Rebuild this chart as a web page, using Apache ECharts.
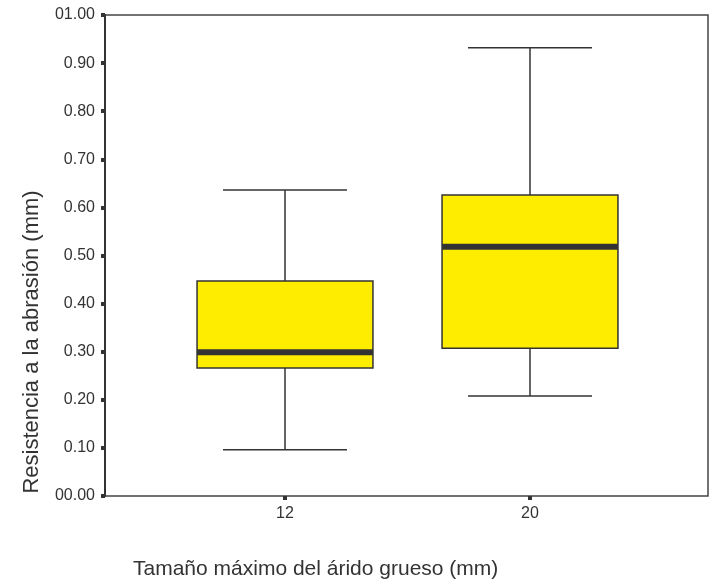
<!DOCTYPE html>
<html>
<head>
<meta charset="utf-8">
<script src="https://cdn.jsdelivr.net/npm/echarts@6/dist/echarts.min.js"></script>
<style>
html,body{margin:0;padding:0;background:#fff;}
#chart{width:717px;height:585px;}
</style>
</head>
<body>
<div id="chart"></div>
<script>
const categories = ['12', '20'];
const minVals = [0.096, 0.208];
const q1Vals = [0.266, 0.307];
const medianVals = [0.299, 0.518];
const q3Vals = [0.447, 0.626];
const maxVals = [0.636, 0.932];
const yTicks = [0, 0.1, 0.2, 0.3, 0.4, 0.5, 0.6, 0.7, 0.8, 0.9, 1.0];
const yTickLabels = ['00.00', '0.10', '0.20', '0.30', '0.40', '0.50', '0.60', '0.70', '0.80', '0.90', '01.00'];
const xTitle = 'Tamaño máximo del árido grueso (mm)';
const yTitle = 'Resistencia a la abrasión (mm)';

const boxData = categories.map((c, i) => [i, minVals[i], q1Vals[i], medianVals[i], q3Vals[i], maxVals[i]]);

const chart = echarts.init(document.getElementById('chart'), null, {renderer: 'canvas'});
const FONT = '"Liberation Sans", Arial, sans-serif';
const DARK = '#333333';

function renderBox(params, api) {
  const idx = api.value(0);
  const band = api.size([1, 0])[0];
  const boxW = band * 0.718;
  const capW = band * 0.506;
  const pMin = api.coord([idx, api.value(1)]);
  const pQ1 = api.coord([idx, api.value(2)]);
  const pMed = api.coord([idx, api.value(3)]);
  const pQ3 = api.coord([idx, api.value(4)]);
  const pMax = api.coord([idx, api.value(5)]);
  const cx = pMed[0];
  const lineStyle = {stroke: DARK, lineWidth: 1.5};
  return {
    type: 'group',
    children: [
      {type: 'line', shape: {x1: cx, y1: pMax[1], x2: cx, y2: pQ3[1]}, style: lineStyle},
      {type: 'line', shape: {x1: cx, y1: pQ1[1], x2: cx, y2: pMin[1]}, style: lineStyle},
      {type: 'line', shape: {x1: cx - capW / 2, y1: pMax[1], x2: cx + capW / 2, y2: pMax[1]}, style: lineStyle},
      {type: 'line', shape: {x1: cx - capW / 2, y1: pMin[1], x2: cx + capW / 2, y2: pMin[1]}, style: lineStyle},
      {type: 'rect', shape: {x: cx - boxW / 2, y: pQ3[1], width: boxW, height: pQ1[1] - pQ3[1]},
        style: {fill: '#FFED00', stroke: DARK, lineWidth: 1.5}},
      {type: 'line', shape: {x1: cx - boxW / 2, y1: pMed[1], x2: cx + boxW / 2, y2: pMed[1]},
        style: {stroke: DARK, lineWidth: 6}}
    ]
  };
}

const option = {
  backgroundColor: '#ffffff',
  animation: false,
  grid: [
    {left: 105, right: 9, top: 15, bottom: 89, show: true, borderColor: '#444', borderWidth: 1.5, backgroundColor: 'transparent'},
    {left: 162.5, width: 490, top: 15, bottom: 89}
  ],
  xAxis: [
    {gridIndex: 0, type: 'category', data: categories, show: false},
    {gridIndex: 1, type: 'category', data: categories, boundaryGap: true,
      axisLine: {show: false},
      axisTick: {show: true, alignWithLabel: true, length: 4, lineStyle: {color: DARK, width: 4}},
      axisLabel: {color: DARK, fontSize: 16, fontFamily: FONT, margin: 10},
      splitLine: {show: false}}
  ],
  yAxis: [
    {gridIndex: 0, type: 'value', min: 0, max: 1, interval: 0.1,
      axisLine: {show: true, lineStyle: {color: DARK, width: 2}},
      axisTick: {show: true, length: 4, lineStyle: {color: DARK, width: 4}},
      axisLabel: {color: DARK, fontSize: 16, fontFamily: FONT, margin: 10,
        formatter: function (v) {
          const i = yTicks.findIndex(t => Math.abs(t - v) < 1e-9);
          return i >= 0 ? yTickLabels[i] : '';
        }},
      splitLine: {show: false}},
    {gridIndex: 1, type: 'value', min: 0, max: 1, interval: 0.1, show: false, splitLine: {show: false}}
  ],
  graphic: [
    {type: 'text', left: 133, top: 559,
      style: {text: xTitle, fill: DARK, font: '21px ' + FONT}},
    {type: 'text', x: 32, y: 342, rotation: Math.PI / 2,
      style: {text: yTitle, fill: DARK, font: '22px ' + FONT, align: 'center', verticalAlign: 'middle'}}
  ],
  series: [
    {type: 'custom', xAxisIndex: 1, yAxisIndex: 1, data: boxData,
      encode: {x: 0, y: [1, 2, 3, 4, 5]},
      renderItem: renderBox}
  ]
};
chart.setOption(option);
</script>
</body>
</html>
